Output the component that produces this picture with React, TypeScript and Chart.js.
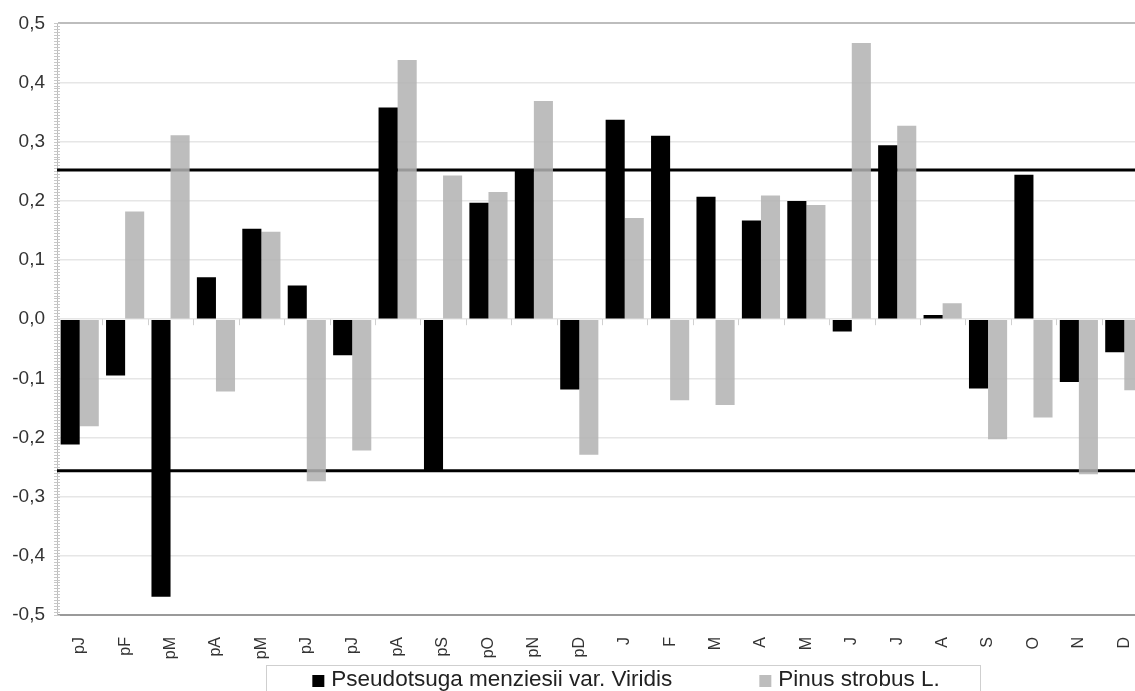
import React, { useEffect, useRef } from 'react';
import { Chart, registerables } from 'chart.js';

Chart.register(...registerables);

const FONT = '"Liberation Sans", Arial, Helvetica, sans-serif';

const categories = ['pJ', 'pF', 'pM', 'pA', 'pM', 'pJ', 'pJ', 'pA', 'pS', 'pO', 'pN', 'pD', 'J', 'F', 'M', 'A', 'M', 'J', 'J', 'A', 'S', 'O', 'N', 'D'];
const pseudotsugaValues = [-0.212, -0.095, -0.469, 0.071, 0.153, 0.057, -0.061, 0.358, -0.257, 0.197, 0.251, -0.119, 0.337, 0.310, 0.207, 0.167, 0.200, -0.021, 0.294, 0.007, -0.117, 0.244, -0.106, -0.056];
const pinusValues = [-0.181, 0.182, 0.311, -0.122, 0.148, -0.274, -0.222, 0.438, 0.243, 0.215, 0.369, -0.229, 0.171, -0.137, -0.145, 0.209, 0.193, 0.467, 0.327, 0.027, -0.203, -0.166, -0.262, -0.120];
const seriesNames = ['Pseudotsuga menziesii var. Viridis', 'Pinus strobus L.'];
const significanceLevels = [0.252, -0.256];
const yMin = -0.5;
const yMax = 0.5;
const yStep = 0.1;

export default function App() {
  const ref = useRef<HTMLCanvasElement>(null);

  useEffect(() => {
    const canvas = ref.current;
    if (!canvas) return;

    const decorations = {
      id: 'decorations',
      beforeDatasetsDraw(chart: any) {
        const { ctx, chartArea } = chart;
        const y = chart.scales.y;
        const x = chart.scales.x;
        ctx.save();
        // minor hatch ticks on y axis
        ctx.strokeStyle = '#c8c8c8';
        ctx.lineWidth = 1;
        for (let v = yMin; v <= yMax + 1e-9; v += 0.005) {
          const py = Math.round(y.getPixelForValue(v)) + 0.5;
          ctx.beginPath();
          ctx.moveTo(chartArea.left - 3, py);
          ctx.lineTo(chartArea.left + 3, py);
          ctx.stroke();
        }
        // category boundary ticks at zero line
        const y0 = y.getPixelForValue(0);
        ctx.strokeStyle = '#d0d0d0';
        for (let i = 0; i <= categories.length; i++) {
          const px = Math.round(x.getPixelForValue(i - 0.5)) + 0.5;
          ctx.beginPath();
          ctx.moveTo(px, y0);
          ctx.lineTo(px, y0 + 6);
          ctx.stroke();
        }
        // significance lines
        ctx.strokeStyle = '#000';
        ctx.lineWidth = 3;
        significanceLevels.forEach((lv) => {
          const py = y.getPixelForValue(lv);
          ctx.beginPath();
          ctx.moveTo(chartArea.left, py);
          ctx.lineTo(chartArea.right, py);
          ctx.stroke();
        });
        ctx.restore();
      },
      afterDraw(chart: any) {
        const { ctx } = chart;
        const datasets = chart.data.datasets;
        ctx.save();
        ctx.font = `22.5px ${FONT}`;
        ctx.textBaseline = 'middle';
        const sq = 12;
        const gapText = 7;
        const gapItems = 87;
        const widths = datasets.map((d: any) => ctx.measureText(d.label).width);
        const contentW = widths.reduce((a: number, w: number) => a + sq + gapText + w, 0) + gapItems * (datasets.length - 1);
        const centerX = 626;
        const boxTop = 665;
        let cx = centerX - contentW / 2;
        ctx.strokeStyle = '#cfcfcf';
        ctx.lineWidth = 1;
        ctx.strokeRect(Math.round(cx - 46) + 0.5, boxTop + 0.5, Math.round(contentW + 87), 60);
        const midY = 680;
        datasets.forEach((d: any, i: number) => {
          ctx.fillStyle = d.legendColor;
          ctx.fillRect(cx, midY - sq / 2 + 1, sq, sq);
          cx += sq + gapText;
          ctx.fillStyle = '#222';
          ctx.fillText(d.label, cx, midY);
          cx += widths[i] + gapItems;
        });
        ctx.restore();
      },
    };

    const chart = new Chart(canvas, {
      type: 'bar',
      data: {
        labels: categories,
        datasets: [
          {
            label: seriesNames[0],
            data: pseudotsugaValues,
            backgroundColor: '#000000',
            legendColor: '#000000',
            borderWidth: 0,
            categoryPercentage: 0.84,
            barPercentage: 1.0,
          } as any,
          {
            label: seriesNames[1],
            data: pinusValues,
            backgroundColor: 'rgba(178,178,178,0.86)',
            legendColor: '#bdbdbd',
            borderWidth: 0,
            categoryPercentage: 0.84,
            barPercentage: 1.0,
          } as any,
        ],
      },
      options: {
        responsive: false,
        animation: false,
        devicePixelRatio: 1,
        layout: { padding: { left: 0, right: 13, top: 21, bottom: 26 } },
        plugins: {
          legend: { display: false },
          tooltip: { enabled: false },
        },
        scales: {
          x: {
            grid: { display: false },
            border: { display: false },
            ticks: {
              autoSkip: false,
              minRotation: 90,
              maxRotation: 90,
              padding: 14,
              color: '#333',
              font: { family: FONT, size: 16 },
            },
            afterFit(scale: any) {
              scale.height = 50;
            },
          },
          y: {
            min: yMin,
            max: yMax,
            ticks: {
              stepSize: yStep,
              padding: 12,
              color: '#333',
              font: { family: FONT, size: 19 },
              callback: (v: any) => Number(v).toFixed(1).replace('.', ','),
            },
            grid: {
              drawTicks: false,
              color: (c: any) => {
                const v = c.tick ? c.tick.value : 0;
                if (Math.abs(v - yMax) < 1e-6) return '#bdbdbd';
                if (Math.abs(v - yMin) < 1e-6) return '#9a9a9a';
                return '#e6e6e6';
              },
              lineWidth: (c: any) => {
                const v = c.tick ? c.tick.value : 0;
                if (Math.abs(Math.abs(v) - 0.5) < 1e-6) return 2;
                return 1.5;
              },
            },
            border: { display: true, color: '#bdbdbd', width: 1 },
            afterFit(scale: any) {
              scale.width = 57;
            },
          },
        },
      },
      plugins: [decorations],
    } as any);

    return () => chart.destroy();
  }, []);

  return (
    <div style={{ position: 'absolute', left: 0, top: 0, width: 1135, height: 691, overflow: 'hidden', background: '#fff' }}>
      <canvas ref={ref} width={1160} height={691} style={{ display: 'block' }} />
    </div>
  );
}
